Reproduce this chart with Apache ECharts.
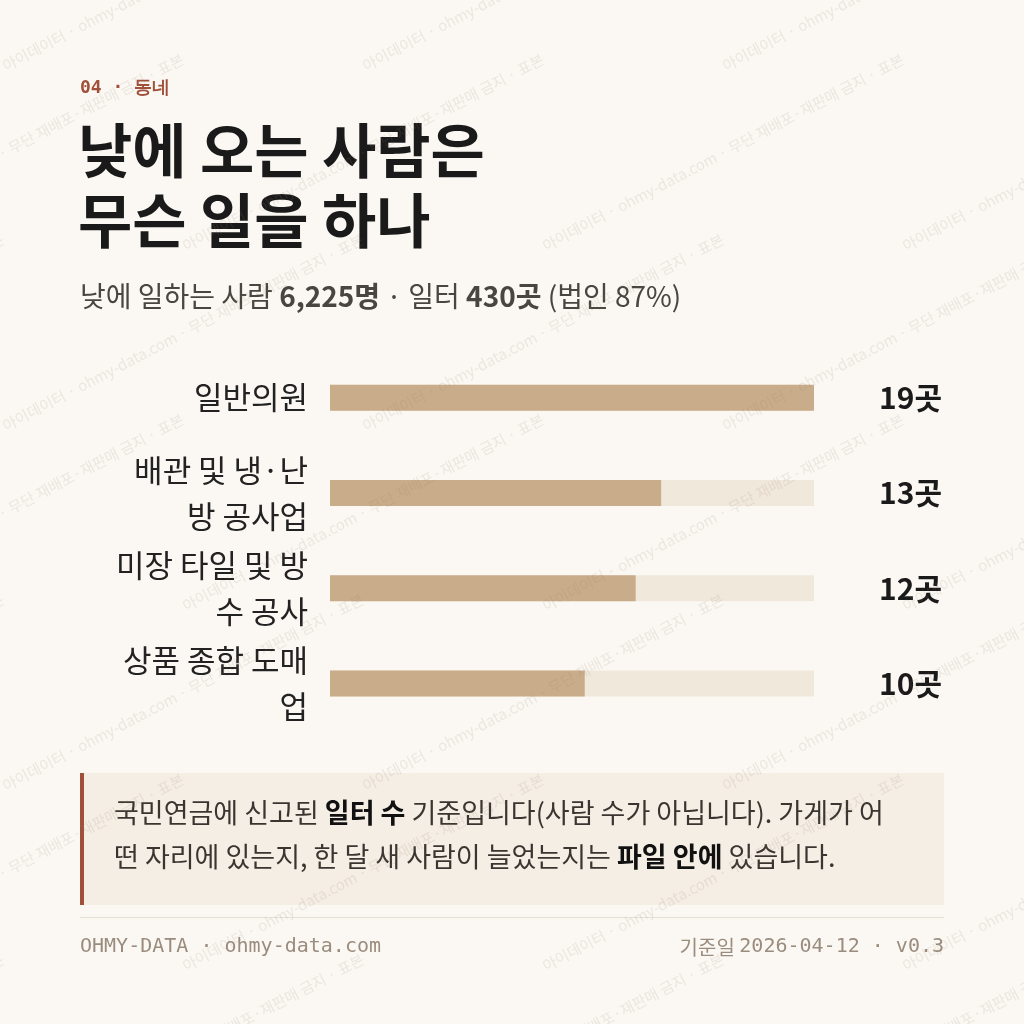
<!DOCTYPE html>
<html><head><meta charset="utf-8">
<script src="https://cdn.jsdelivr.net/npm/echarts@6/dist/echarts.min.js"></script>
<style>html,body{margin:0;padding:0;background:#fbf8f3}#c{width:1024px;height:1024px}</style>
</head><body><div id="c"></div>
<script>
const categories = ["일반의원", "배관 및 냉·난\n방 공사업", "미장 타일 및 방\n수 공사", "상품 종합 도매\n업"];
const values = [19, 13, 12, 10];
const valueLabels = ["19곳", "13곳", "12곳", "10곳"];

const KR = '"Noto Sans CJK KR","Noto Sans",sans-serif';
const MONO = '"DejaVu Sans Mono",monospace';
const chart = echarts.init(document.getElementById('c'));

const wm = [];
const wmText = '아이데이터 · ohmy-data.com · 무단 재배포·재판매 금지 · 표본';
for (let r = -2; r < 8; r++) {
  for (let c = -1; c < 4; c++) {
    wm.push({type:'text', x: c*360 + (r%2)*180, y: r*180 + 60, rotation: Math.PI/6.5, z: 100, silent:true,
      style:{text: wmText, font:'15px '+KR, fill:'rgba(150,125,105,0.15)'}});
  }
}

chart.setOption({
  backgroundColor:'#fbf8f3',
  animation:false,
  grid:{left:330, right:210, top:350, bottom:293},
  xAxis:{type:'value', min:0, max:19, show:false},
  yAxis:[
    {type:'category', data:categories, inverse:true, axisLine:{show:false}, axisTick:{show:false},
     axisLabel:{fontFamily:KR, fontSize:31, color:'#222', lineHeight:46, margin:22, align:'right'}},
    {type:'category', data:valueLabels, inverse:true, position:'right', axisLine:{show:false}, axisTick:{show:false},
     axisLabel:{fontFamily:KR, fontSize:30, fontWeight:'bold', color:'#1a1a1a', margin:128, align:'right'}}
  ],
  series:[{type:'bar', data:values, barWidth:26, showBackground:true,
    backgroundStyle:{color:'#f1e8dc'}, itemStyle:{color:'#c9ad8a'}}],
  graphic:[
    {type:'text', left:80, top:79, style:{text:'04 · 동네', font:'bold 18px '+MONO, fill:'#a0503a'}},
    {type:'text', left:78, top:116, style:{text:'낮에 오는 사람은\n무슨 일을 하나', font:'bold 59px '+KR, lineHeight:70, fill:'#1a1a1a'}},
    {type:'text', left:80, top:282, style:{text:'{n|낮에 일하는 사람 }{b|6,225명}{n| · 일터 }{b|430곳}{n| (법인 87%)}',
      rich:{n:{font:'28px '+KR, fill:'#4a4540'}, b:{font:'bold 28px '+KR, fill:'#4a4540'}}}},
    {type:'rect', shape:{x:80, y:773, width:864, height:132}, style:{fill:'#f5eee5'}},
    {type:'rect', shape:{x:80, y:773, width:4, height:132}, style:{fill:'#a0503a'}},
    {type:'text', left:114, top:799, style:{
      text:'{n|국민연금에 신고된 }{b|일터 수}{n| 기준입니다(사람 수가 아닙니다). 가게가 어}\n{n|떤 자리에 있는지, 한 달 새 사람이 늘었는지는 }{b|파일 안에}{n| 있습니다.}',
      rich:{n:{font:'27px '+KR, fill:'#3a3530', lineHeight:44}, b:{font:'bold 27px '+KR, fill:'#111', lineHeight:44}}}},
    {type:'rect', shape:{x:80, y:917, width:864, height:1}, style:{fill:'#e6e0d5'}},
    {type:'text', left:80, top:937, style:{text:'OHMY-DATA · ohmy-data.com', font:'20px '+MONO, fill:'#9a8c7e'}},
    {type:'text', right:80, top:937, style:{text:'{k|기준일 }{m|2026-04-12 · v0.3}', rich:{k:{font:'20px '+KR, fill:'#9a8c7e'}, m:{font:'20px '+MONO, fill:'#9a8c7e'}}}},
    ...wm
  ]
});
</script></body></html>
